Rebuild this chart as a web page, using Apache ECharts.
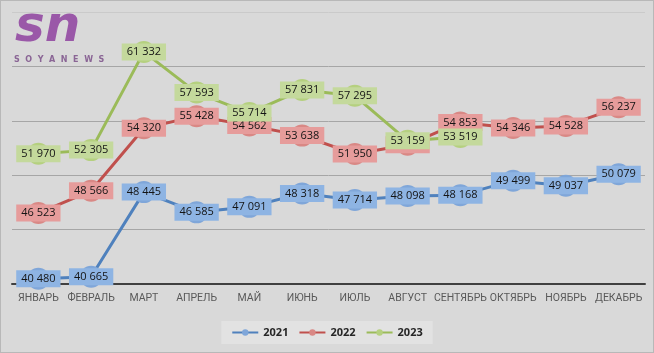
<!DOCTYPE html>
<html>
<head>
<meta charset="utf-8">
<script src="https://cdn.jsdelivr.net/npm/echarts@6/dist/echarts.min.js"></script>
<style>
  html, body { margin: 0; padding: 0; background: #d9d9d9; }
  #chart { width: 654px; height: 353px; box-sizing: border-box; border: 1px solid #b8b8b8; }
</style>
</head>
<body>
<div id="chart"></div>
<script>
const months = ['ЯНВАРЬ', 'ФЕВРАЛЬ', 'МАРТ', 'АПРЕЛЬ', 'МАЙ', 'ИЮНЬ', 'ИЮЛЬ', 'АВГУСТ', 'СЕНТЯБРЬ', 'ОКТЯБРЬ', 'НОЯБРЬ', 'ДЕКАБРЬ'];
const values2021 = [40480, 40665, 48445, 46585, 47091, 48318, 47714, 48098, 48168, 49499, 49037, 50079];
const values2022 = [46523, 48566, 54320, 55428, 54562, 53638, 51950, 52790, 54853, 54346, 54528, 56237];
const values2023 = [51970, 52305, 61332, 57593, 55714, 57831, 57295, 53159, 53519, null, null, null];

const chart = echarts.init(document.getElementById('chart'));

// "61 332" style with a space as thousands separator
const fmt = p => String(p.value).replace(/\B(?=(\d{3})+(?!\d))/g, ' ');

function makeSeries(name, data, lineColor, markerColor, boxColor) {
  return {
    name: name,
    type: 'line',
    data: data,
    symbol: 'circle',
    symbolSize: 22,
    itemStyle: { color: markerColor },
    lineStyle: { color: lineColor, width: 3 },
    label: {
      show: true,
      position: 'inside',
      formatter: fmt,
      backgroundColor: boxColor,
      padding: [3, 5],
      color: '#141414',
      fontFamily: 'Open Sans',
      fontSize: 11
    },
    emphasis: { disabled: true }
  };
}

chart.setOption({
  backgroundColor: '#d9d9d9',
  animation: false,
  grid: { left: 11, right: 8, top: 11, bottom: 68 },
  legend: {
    bottom: 8,
    left: 'center',
    backgroundColor: '#e2e2e2',
    padding: [6, 10],
    itemWidth: 26,
    itemHeight: 8,
    itemGap: 10,
    textStyle: { color: '#262626', fontFamily: 'Open Sans', fontSize: 11, fontWeight: 'bold' },
    data: ['2021', '2022', '2023']
  },
  graphic: [
    {
      type: 'text', left: 14, top: 2,
      style: { text: 'sn', fill: '#9a58a8', font: 'italic bold 50px "DejaVu Sans"' }
    },
    {
      type: 'text', left: 13, top: 55,
      style: { text: 'S  O  Y  A  N  E  W  S', fill: '#8a6595', font: 'bold 8px "DejaVu Sans"' }
    }
  ],
  xAxis: {
    type: 'category',
    data: months,
    boundaryGap: true,
    axisTick: { show: false },
    axisLine: { lineStyle: { color: '#404040', width: 2 } },
    axisLabel: { color: '#595959', fontFamily: 'Roboto', fontSize: 10.5, margin: 9, interval: 0 }
  },
  yAxis: {
    type: 'value',
    min: 40000,
    max: 65000,
    interval: 5000,
    axisLabel: { show: false },
    axisLine: { show: false },
    axisTick: { show: false },
    splitLine: { lineStyle: { color: ['#a6a6a6', '#a6a6a6', '#a6a6a6', '#a6a6a6', '#a6a6a6', '#cacaca'], width: 1 } }
  },
  series: [
    makeSeries('2021', values2021, '#4f81bd', '#7fa6d9', '#8eb4e3'),
    makeSeries('2022', values2022, '#c0504d', '#d98885', '#e69c9b'),
    makeSeries('2023', values2023, '#9bbb59', '#b5d07f', '#c4d99c')
  ]
});
</script>
</body>
</html>
